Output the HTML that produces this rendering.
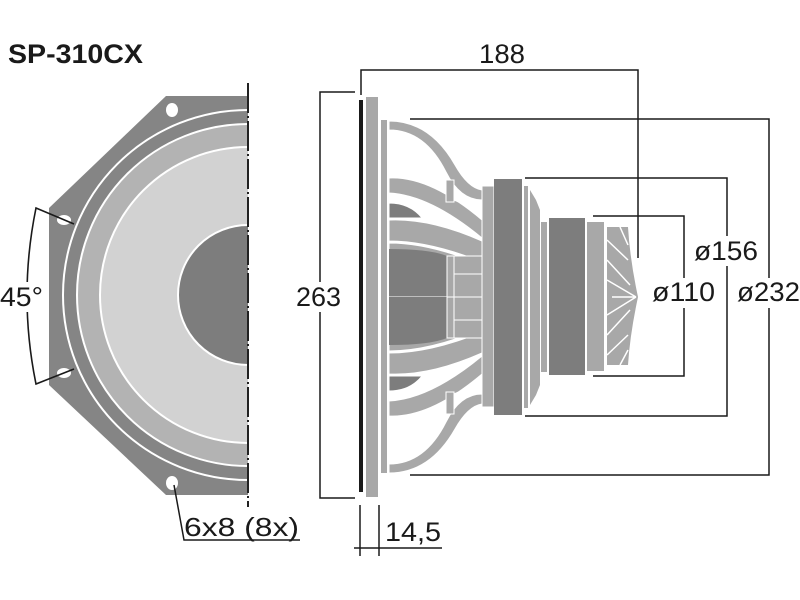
<!DOCTYPE html>
<html><head><style>html,body{margin:0;padding:0;background:#fff;width:800px;height:600px;overflow:hidden}</style></head>
<body>
<svg width="800" height="600" viewBox="0 0 800 600" xmlns="http://www.w3.org/2000/svg" font-family="Liberation Sans, sans-serif">
<rect width="800" height="600" fill="#fff"/>
<text x="8" y="63" font-size="27" font-weight="bold" fill="#1a1a1a" textLength="135" lengthAdjust="spacingAndGlyphs">SP-310CX</text>
<defs><clipPath id="lh"><rect x="0" y="0" width="248" height="600"/></clipPath>
<g id="half">
<path d="M389,121 Q430,121 455,165 Q468,188 482,190 L482,200 Q460,200 446,172 Q425,130 389,130 Z" fill="#a8a8a8" stroke="#fff"/>
<path d="M389,178 Q430,176 482,220 L482,238 Q430,195 389,193 Z" fill="#a8a8a8" stroke="#fff"/>
<path d="M389,203 Q410,203 422,218 L389,218 Z" fill="#7d7d7d" stroke="#fff"/>
<path d="M389,220 Q430,218 482,241 L482,262 Q430,241 389,241 Z" fill="#a8a8a8" stroke="#fff"/>
<path d="M389,243 Q430,243 482,265 L482,297 L389,297 Z" fill="#a8a8a8" stroke="#fff"/>
<path d="M389,249 Q430,249 447,256 L447,297 L389,297 Z" fill="#7d7d7d"/>
<rect x="447" y="256" width="35" height="41" fill="#a8a8a8" stroke="#fff"/>
<line x1="454" y1="256" x2="454" y2="297" stroke="#fff"/>
<line x1="454" y1="274" x2="482" y2="274" stroke="#fff"/>
<rect x="446" y="180" width="8" height="22" fill="#a8a8a8" stroke="#fff"/>
<path d="M454,190 L482,205 M454,200 L482,212" stroke="#fff"/>
</g>
</defs>
<g clip-path="url(#lh)">
<polygon points="166,96 248,96 248,495 166,495 49,385 49,208" fill="#858585"/>
<circle cx="248" cy="295" r="185" fill="#858585" stroke="#fff" stroke-width="2"/>
<circle cx="248" cy="295" r="171" fill="#b3b3b3" stroke="#fff" stroke-width="2"/>
<circle cx="248" cy="295" r="148" fill="#d2d2d2" stroke="#fff" stroke-width="2"/>
<circle cx="248" cy="295" r="70" fill="#7d7d7d" stroke="#fff" stroke-width="2"/>
<ellipse cx="172" cy="110" rx="6" ry="7" fill="#fff"/>
<ellipse cx="64" cy="220" rx="7" ry="5" fill="#fff"/>
<ellipse cx="64" cy="373" rx="7" ry="5" fill="#fff"/>
<ellipse cx="172" cy="483" rx="6" ry="7" fill="#fff"/>
</g>
<line x1="248" y1="83" x2="248" y2="507" stroke="#222" stroke-width="2" stroke-dasharray="30,3,2,3"/>
<path d="M74,224 L36,208 Q18,296 36,384 L74,369" fill="none" stroke="#1a1a1a" stroke-width="1.6"/>
<rect x="0" y="282" width="44" height="30" fill="#fff"/>
<text x="0" y="306" font-size="27" fill="#1a1a1a" textLength="43" lengthAdjust="spacingAndGlyphs">45°</text>
<polyline points="174,485 184,540 300,540" fill="none" stroke="#1a1a1a" stroke-width="1.5"/>
<text x="184" y="536" font-size="26" fill="#1a1a1a" textLength="115" lengthAdjust="spacingAndGlyphs">6x8 (8x)</text>
<!-- side view -->
<rect x="359" y="100" width="4" height="392" fill="#1a1a1a"/>
<rect x="366" y="97" width="12" height="400" fill="#a8a8a8"/>
<rect x="381" y="120" width="6" height="353" fill="#a8a8a8"/>
<use href="#half"/>
<use href="#half" transform="translate(0,594) scale(1,-1)"/>
<!-- magnet -->
<rect x="482" y="186" width="12" height="221" fill="#a8a8a8" stroke="#fff"/>
<rect x="494" y="179" width="28" height="236" fill="#7d7d7d"/>
<rect x="524" y="186" width="4" height="222" fill="#a8a8a8"/>
<polygon points="530,190 536,200 540,210 540,385 536,395 530,405" fill="#a8a8a8"/>
<rect x="541" y="222" width="6" height="150" fill="#a8a8a8"/>
<rect x="549" y="218" width="36" height="157" fill="#7d7d7d"/>
<rect x="587" y="222" width="17" height="149" fill="#a8a8a8"/>
<path d="M607,227 L628,227 Q630,260 638,297 Q630,334 628,365 L607,365 Z" fill="#a8a8a8"/>
<g stroke="#fff" stroke-width="1.5" fill="none">
<path d="M607,240 L628,260 M607,260 L630,285 M607,280 L636,297 M607,315 L636,297 M607,335 L630,310 M607,355 L628,335 M620,227 L628,245 M620,365 L628,350 M612,297 L636,297"/>
</g>
<g stroke="#1a1a1a" stroke-width="1.5" fill="none">
<polyline points="361,95 361,70 638,70 638,258"/>
<polyline points="355,92 320,92 320,498 355,498"/>
<polyline points="410,119 769,119 769,475 410,475"/>
<polyline points="525,178 727,178 727,416 525,416"/>
<polyline points="593,216 684,216 684,376 593,376"/>
<line x1="360" y1="505" x2="360" y2="556"/>
<line x1="379" y1="505" x2="379" y2="556"/>
<line x1="354" y1="548" x2="442" y2="548"/>
</g>
<rect x="294" y="282" width="50" height="30" fill="#fff"/>
<text x="296" y="306" font-size="27" fill="#1a1a1a" textLength="45" lengthAdjust="spacingAndGlyphs">263</text>
<text x="479" y="63" font-size="27" fill="#1a1a1a" textLength="46" lengthAdjust="spacingAndGlyphs">188</text>
<rect x="690" y="236" width="70" height="30" fill="#fff"/>
<text x="694" y="260" font-size="27" fill="#1a1a1a" textLength="64" lengthAdjust="spacingAndGlyphs">ø156</text>
<rect x="650" y="278" width="68" height="30" fill="#fff"/>
<text x="652" y="301" font-size="27" fill="#1a1a1a" textLength="63" lengthAdjust="spacingAndGlyphs">ø110</text>
<rect x="735" y="278" width="65" height="30" fill="#fff"/>
<text x="737" y="301" font-size="27" fill="#1a1a1a" textLength="63" lengthAdjust="spacingAndGlyphs">ø232</text>
<text x="385" y="541" font-size="27" fill="#1a1a1a" textLength="56" lengthAdjust="spacingAndGlyphs">14,5</text>
</svg>
</body></html>
